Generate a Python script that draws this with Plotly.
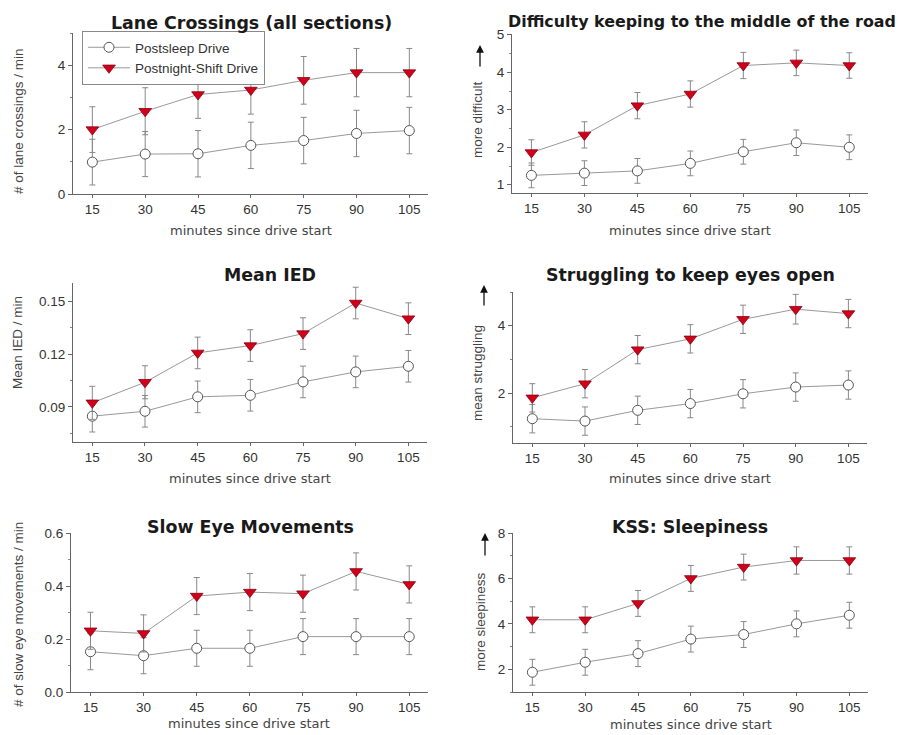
import plotly.graph_objects as go

minutes = [15, 30, 45, 60, 75, 90, 105]
x_ticks = [15, 30, 45, 60, 75, 90, 105]
series_names = ["Postsleep Drive", "Postnight-Shift Drive"]

titles = ["Lane Crossings (all sections)", "Difficulty keeping to the middle of the road",
          "Mean IED", "Struggling to keep eyes open", "Slow Eye Movements", "KSS: Sleepiness"]
y_titles = ["# of lane crossings / min", "more difficult", "Mean IED / min",
            "mean struggling", "# of slow eye movements / min", "more sleepiness"]
x_title = "minutes since drive start"

lane_sleep = [0.99, 1.24, 1.25, 1.51, 1.66, 1.88, 1.97]
lane_sleep_err = [0.71, 0.70, 0.72, 0.72, 0.72, 0.72, 0.72]
lane_shift = [2.00, 2.57, 3.09, 3.23, 3.53, 3.77, 3.77]
lane_shift_err = [0.71, 0.73, 0.74, 0.75, 0.74, 0.75, 0.75]

diff_sleep = [1.25, 1.31, 1.37, 1.57, 1.88, 2.12, 2.00]
diff_sleep_err = [0.33, 0.33, 0.33, 0.33, 0.33, 0.34, 0.33]
diff_shift = [1.86, 2.33, 3.11, 3.42, 4.18, 4.25, 4.18]
diff_shift_err = [0.34, 0.35, 0.35, 0.35, 0.35, 0.34, 0.34]

ied_sleep = [0.0847, 0.0875, 0.0957, 0.0966, 0.1042, 0.1099, 0.1131]
ied_sleep_err = [0.009, 0.009, 0.009, 0.009, 0.009, 0.009, 0.009]
ied_shift = [0.0923, 0.1040, 0.1207, 0.1249, 0.1317, 0.1491, 0.1402]
ied_shift_err = [0.0094, 0.0094, 0.009, 0.009, 0.009, 0.009, 0.009]

strug_sleep = [1.24, 1.17, 1.49, 1.69, 1.98, 2.18, 2.24]
strug_sleep_err = [0.42, 0.42, 0.42, 0.42, 0.42, 0.42, 0.42]
strug_shift = [1.86, 2.28, 3.29, 3.61, 4.19, 4.49, 4.36]
strug_shift_err = [0.42, 0.42, 0.42, 0.42, 0.42, 0.44, 0.42]

sem_sleep = [0.152, 0.137, 0.165, 0.165, 0.209, 0.209, 0.209]
sem_sleep_err = [0.068, 0.068, 0.068, 0.068, 0.068, 0.068, 0.068]
sem_shift = [0.231, 0.221, 0.362, 0.377, 0.371, 0.455, 0.406]
sem_shift_err = [0.07, 0.07, 0.07, 0.07, 0.07, 0.07, 0.07]

kss_sleep = [1.87, 2.31, 2.69, 3.33, 3.53, 4.00, 4.38]
kss_sleep_err = [0.57, 0.57, 0.57, 0.57, 0.57, 0.57, 0.57]
kss_shift = [4.18, 4.18, 4.90, 6.00, 6.50, 6.79, 6.79]
kss_shift_err = [0.57, 0.57, 0.57, 0.57, 0.57, 0.6, 0.6]

panels = [
    (lane_sleep, lane_sleep_err, lane_shift, lane_shift_err),
    (diff_sleep, diff_sleep_err, diff_shift, diff_shift_err),
    (ied_sleep, ied_sleep_err, ied_shift, ied_shift_err),
    (strug_sleep, strug_sleep_err, strug_shift, strug_shift_err),
    (sem_sleep, sem_sleep_err, sem_shift, sem_shift_err),
    (kss_sleep, kss_sleep_err, kss_shift, kss_shift_err),
]

W, H = 907, 735
FONT = "Liberation Sans, Arial, sans-serif"
WIDE = "DejaVu Sans, Verdana, sans-serif"

# the page shows the figure shifted and slightly squeezed; map picture pixels to paper fractions
OX, OY, HV = 8.0, 15.0, 720.0


def fx(px):
    return (px - OX) / W


def fy(py):
    return 1 - (py - OY) / HV


# picture-pixel boxes of plot areas: (left, right, top, bottom)
boxes = [
    (73, 428, 33, 194),
    (512, 868, 34, 193),
    (73, 427, 283, 442),
    (513, 867, 292, 443),
    (71, 428, 533, 692),
    (513, 868, 533, 692),
]
y_cfg = [
    dict(range=[0, 5], tick0=0, dtick=2, fmt=None),
    dict(range=[0.78, 5.02], tick0=1, dtick=1, fmt=None),
    dict(range=[0.07, 0.1605], tick0=0.09, dtick=0.03, fmt=".2f"),
    dict(range=[0.52, 5.0], tick0=0, dtick=2, fmt=None),
    dict(range=[0, 0.6], tick0=0, dtick=0.2, fmt=".1f"),
    dict(range=[1.0, 8.0], tick0=0, dtick=2, fmt=None),
]
title_pos = [(252, 23), (702, 21.5), (270, 275), (690, 275), (250, 527), (690, 527)]
title_size = [17.4, 15.9, 17.4, 17.4, 17.4, 17.4]
xtitle_y = [230, 230, 478, 478, 723, 724]
ytitle_pos = [(18, 121), (477, 120), (18, 343), (477, 373), (18, 615), (480, 622)]
arrow_pos = [None, (480, 45, 68), None, (484, 285, 307), None, (485, 533, 557)]

fig = go.Figure()
layout = dict(
    width=W, height=H, margin=dict(l=0, r=0, t=0, b=0),
    paper_bgcolor="white", plot_bgcolor="white",
    font=dict(family=FONT, size=12, color="#333"),
    showlegend=True,
    legend=dict(x=fx(82), y=fy(31), xanchor="left", yanchor="top",
                bordercolor="#888", borderwidth=1, bgcolor="white",
                font=dict(size=13.5, color="#333", family=FONT), tracegroupgap=0,
                itemwidth=42),
)
annotations = []

for i, (sl, sle, sh, she) in enumerate(panels):
    n = i + 1
    xa = "x" if n == 1 else f"x{n}"
    ya = "y" if n == 1 else f"y{n}"
    l, r, t, b = boxes[i]
    cfg = y_cfg[i]
    layout["xaxis" if n == 1 else f"xaxis{n}"] = dict(
        domain=[fx(l), fx(r)], range=[9.5, 110.3], anchor=ya,
        tickvals=x_ticks, ticks="outside", ticklen=3, tickcolor="#666",
        showline=True, linecolor="#666", linewidth=1.2, showgrid=False, zeroline=False,
        tickfont=dict(size=13.5, color="#333"),
    )
    ydict = dict(
        domain=[fy(b), fy(t)], range=cfg["range"], anchor=xa,
        tick0=cfg["tick0"], dtick=cfg["dtick"], ticks="outside", ticklen=4, tickcolor="#666",
        minor=dict(dtick=cfg["dtick"] / 2, ticks="outside", ticklen=2, tickcolor="#888"),
        showline=True, linecolor="#666", linewidth=1.2, showgrid=False, zeroline=False,
        tickfont=dict(size=13.5, color="#333"),
    )
    if cfg["fmt"]:
        ydict["tickformat"] = cfg["fmt"]
    layout["yaxis" if n == 1 else f"yaxis{n}"] = ydict

    fig.add_trace(go.Scatter(
        x=minutes, y=sl, xaxis=xa, yaxis=ya, mode="lines+markers",
        name=series_names[0], legendgroup="a", showlegend=(n == 1),
        line=dict(color="#999", width=1),
        marker=dict(symbol="circle", size=10, color="white", line=dict(color="#555", width=1)),
        error_y=dict(type="data", array=sle, color="#888", thickness=1, width=3),
    ))
    fig.add_trace(go.Scatter(
        x=minutes, y=sh, xaxis=xa, yaxis=ya, mode="lines+markers",
        name=series_names[1], legendgroup="b", showlegend=(n == 1),
        line=dict(color="#999", width=1),
        marker=dict(symbol="triangle-down", size=11, color="#d0001a", line=dict(color="#8a0010", width=0.8)),
        error_y=dict(type="data", array=she, color="#888", thickness=1, width=3),
    ))

    tx, ty = title_pos[i]
    annotations.append(dict(text=f"<b>{titles[i]}</b>", x=fx(tx), y=fy(ty), xref="paper", yref="paper",
                            showarrow=False, xanchor="center", yanchor="middle",
                            font=dict(size=title_size[i], color="#1a1a1a", family=WIDE)))
    annotations.append(dict(text=x_title, x=fx((l + r) / 2), y=fy(xtitle_y[i]), xref="paper", yref="paper",
                            showarrow=False, xanchor="center", yanchor="middle",
                            font=dict(size=13, color="#444", family=WIDE)))
    yx, yy = ytitle_pos[i]
    annotations.append(dict(text=y_titles[i], x=fx(yx), y=fy(yy), xref="paper", yref="paper",
                            showarrow=False, xanchor="center", yanchor="middle", textangle=-90,
                            font=dict(size=13.5, color="#444")))
    if arrow_pos[i]:
        ax_, tip, tail = arrow_pos[i]
        annotations.append(dict(text="", x=fx(ax_), y=fy(tip), xref="paper", yref="paper",
                                ax=0, ay=(tail - tip), showarrow=True, arrowhead=2, arrowsize=1.2,
                                arrowwidth=1.3, arrowcolor="#111"))

layout["annotations"] = annotations
fig.update_layout(**layout)
fig.write_html("out.html")
